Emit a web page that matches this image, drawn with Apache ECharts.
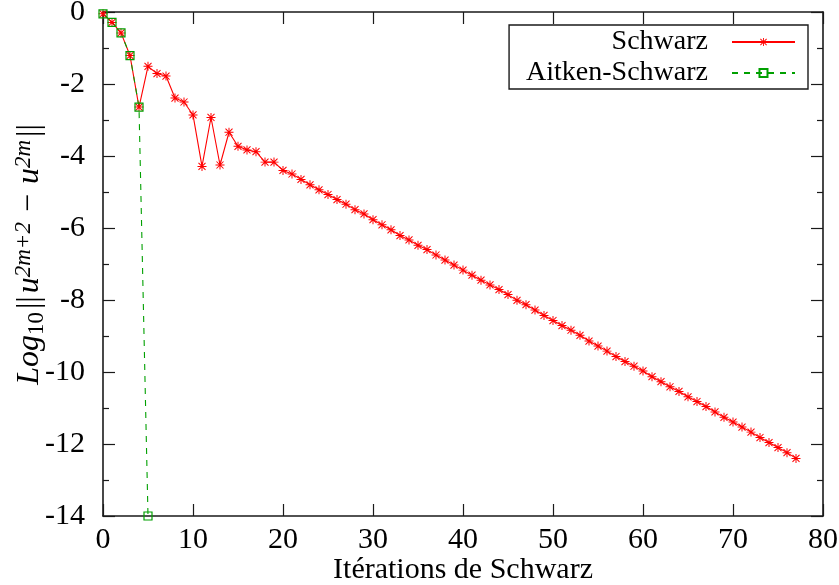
<!DOCTYPE html>
<html>
<head>
<meta charset="utf-8">
<script src="https://cdn.jsdelivr.net/npm/echarts@6/dist/echarts.min.js"></script>
<style>
html,body{margin:0;padding:0;background:#fff;}
#chart{width:839px;height:585px;}
</style>
</head>
<body>
<div id="chart"></div>
<script>
// ---- data ----
const schwarzX = [];
for (let i = 0; i <= 77; i++) schwarzX.push(i);
const schwarzY = [
  -0.05, -0.29, -0.58, -1.21, -2.64, -1.51, -1.71, -1.78, -2.39, -2.50,
  -2.86, -4.29, -2.93, -4.25, -3.34, -3.73, -3.83, -3.88, -4.17, -4.17,
  -4.40, -4.50, -4.65, -4.80, -4.94, -5.07, -5.21, -5.34, -5.49, -5.61,
  -5.77, -5.91, -6.05, -6.21, -6.33, -6.48, -6.60, -6.75, -6.89, -7.03,
  -7.17, -7.31, -7.45, -7.58, -7.71, -7.85, -8.01, -8.13, -8.28, -8.43,
  -8.57, -8.71, -8.84, -8.98, -9.14, -9.28, -9.42, -9.57, -9.71, -9.84,
  -9.97, -10.13, -10.27, -10.41, -10.54, -10.69, -10.82, -10.96, -11.11, -11.26,
  -11.39, -11.53, -11.67, -11.82, -11.96, -12.10, -12.24, -12.40
];
const aitkenX = [0, 1, 2, 3, 4, 5];
const aitkenY = [-0.05, -0.29, -0.58, -1.21, -2.64, -14.0];
const seriesNames = ['Schwarz', 'Aitken-Schwarz'];
const xTitle = 'Itérations de Schwarz';

// ---- chart ----
const FONT = '"Liberation Serif", "DejaVu Serif", serif';
const FS = 28;
const TFS = 30;
const starPath = 'path://M0,4.45L10,4.45L10,5.55L0,5.55Z M4.45,0L5.55,0L5.55,10L4.45,10Z M0.7,1.5L1.5,0.7L9.3,8.5L8.5,9.3Z M8.5,0.7L9.3,1.5L1.5,9.3L0.7,8.5Z';

const pair = (xs, ys) => xs.map((x, i) => [x, ys[i]]);

const axisLineStyle = {color: '#1a1a1a', width: 1.6};

const chart = echarts.init(document.getElementById('chart'), null, {renderer: 'canvas'});
chart.setOption({
  animation: false,
  backgroundColor: '#fff',
  textStyle: {fontFamily: FONT, color: '#000'},
  grid: {left: 103, right: 16, top: 12, bottom: 69, containLabel: false, outerBoundsMode: 'none'},
  legend: {
    data: seriesNames,
    orient: 'vertical',
    align: 'right',
    right: 31,
    top: 25,
    padding: [2, 12, 1, 17],
    itemGap: 1,
    itemWidth: 63,
    itemHeight: 10,
    borderColor: '#1a1a1a',
    borderWidth: 1.4,
    backgroundColor: '#fff',
    textStyle: {fontFamily: FONT, fontSize: FS, color: '#000', lineHeight: 30, padding: [0, 19, 0, 0]}
  },
  xAxis: [{
    type: 'value', min: 0, max: 80, interval: 10, position: 'bottom',
    name: xTitle, nameLocation: 'middle', nameGap: 39, nameMoveOverlap: false,
    nameTextStyle: {fontFamily: FONT, fontSize: 30, color: '#000'},
    axisLine: {onZero: false, lineStyle: axisLineStyle},
    axisTick: {inside: true, length: 12, lineStyle: {color: '#1a1a1a', width: 1.2}},
    axisLabel: {fontFamily: FONT, fontSize: TFS, color: '#000', margin: 9},
    splitLine: {show: false}
  }, {
    type: 'value', min: 0, max: 80, interval: 10, position: 'top',
    axisLine: {onZero: false, lineStyle: axisLineStyle},
    axisTick: {inside: true, length: 12, lineStyle: {color: '#1a1a1a', width: 1.2}},
    axisLabel: {show: false},
    splitLine: {show: false}
  }],
  yAxis: [{
    type: 'value', min: -14, max: 0, interval: 2, position: 'left',
    name: '{it|Log}{sub|10}{n|||}{it|u}{sup|2m+2}{op|−}{it|u}{sup|2m}{n|||}',
    nameLocation: 'middle', nameGap: 55, nameRotate: 90, nameMoveOverlap: false,
    nameTextStyle: {
      fontFamily: FONT, fontSize: FS, color: '#000', padding: [0, 0, 0, 22],
      rich: {
        it: {fontFamily: FONT, fontStyle: 'italic', fontSize: 32, lineHeight: 36, verticalAlign: 'middle'},
        n: {fontFamily: FONT, fontSize: 32, lineHeight: 36, verticalAlign: 'middle', padding: [0, 3, 0, 3]},
        op: {fontFamily: FONT, fontSize: 32, lineHeight: 36, verticalAlign: 'middle', padding: [0, 10, 0, 10]},
        sub: {fontFamily: FONT, fontSize: 23, lineHeight: 36, verticalAlign: 'bottom'},
        sup: {fontFamily: FONT, fontStyle: 'italic', fontSize: 23, lineHeight: 36, verticalAlign: 'top'}
      }
    },
    axisLine: {onZero: false, lineStyle: axisLineStyle},
    axisTick: {inside: true, length: 12, lineStyle: {color: '#1a1a1a', width: 1.2}},
    minorTick: {show: true, splitNumber: 2, length: 6, lineStyle: {color: '#1a1a1a', width: 1.2}},
    axisLabel: {fontFamily: FONT, fontSize: TFS, color: '#000', margin: 18},
    splitLine: {show: false}
  }, {
    type: 'value', min: -14, max: 0, interval: 2, position: 'right',
    axisLine: {onZero: false, lineStyle: axisLineStyle},
    axisTick: {inside: true, length: 12, lineStyle: {color: '#1a1a1a', width: 1.2}},
    minorTick: {show: true, splitNumber: 2, length: 6, lineStyle: {color: '#1a1a1a', width: 1.2}},
    axisLabel: {show: false},
    splitLine: {show: false}
  }],
  series: [{
    name: seriesNames[0],
    type: 'line',
    xAxisIndex: 0, yAxisIndex: 0,
    data: pair(schwarzX, schwarzY),
    symbol: starPath,
    symbolSize: 9,
    showAllSymbol: true,
    clip: false,
    lineStyle: {color: '#ff0000', width: 1.1},
    itemStyle: {color: '#ff0000'}
  }, {
    name: seriesNames[1],
    type: 'line',
    xAxisIndex: 0, yAxisIndex: 0,
    data: pair(aitkenX, aitkenY),
    symbol: 'rect',
    symbolSize: 8,
    showAllSymbol: true,
    clip: false,
    lineStyle: {color: '#00a000', width: 1.1, type: [6, 6]},
    itemStyle: {color: 'rgba(0,0,0,0)', borderColor: '#00a000', borderWidth: 1.2}
  }]
});
</script>
</body>
</html>
